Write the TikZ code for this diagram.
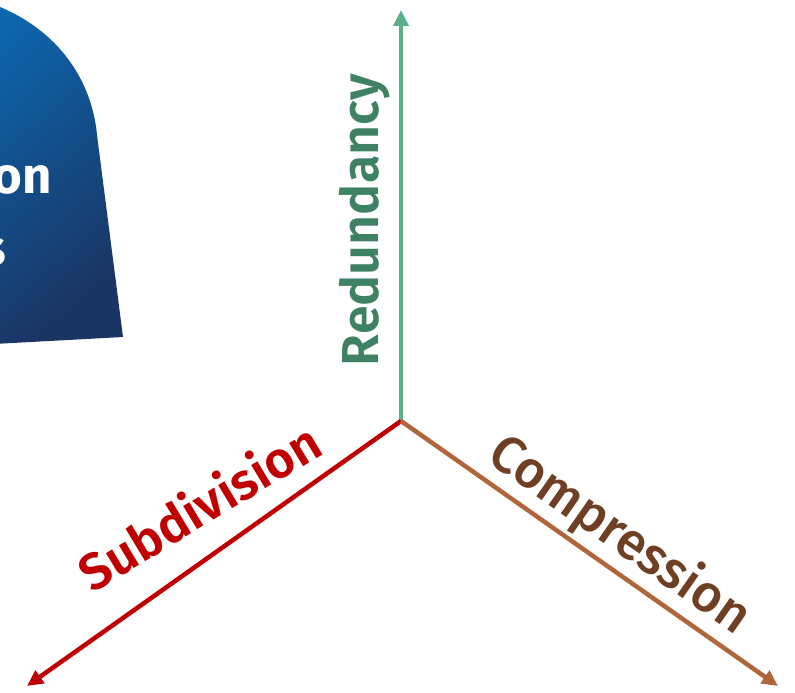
\documentclass[tikz,border=0pt]{standalone}
\usepackage{fontspec}
\setmainfont{Fira Sans}
\newfontfamily\firamedium{Fira Sans Medium}
\newfontfamily\firasemi{Fira Sans SemiBold}
\usetikzlibrary{arrows.meta}
\definecolor{redundgreen}{HTML}{5BB08A}
\definecolor{redundtext}{HTML}{3F8263}
\definecolor{subdivred}{HTML}{C00000}
\definecolor{compbrown}{HTML}{B0663A}
\definecolor{comptext}{HTML}{6E3F22}
\definecolor{panelblue}{HTML}{0B6AB3}
\definecolor{paneldark}{HTML}{1A3463}
\tikzset{
  axisarrow/.style={line width=4.5pt, -{Triangle[length=16pt,width=15pt]}},
  axislabel/.style={anchor=base, font=\firasemi\fontsize{52}{60}\selectfont},
  paneltext/.style={anchor=base east, inner sep=0pt, text=white, font=\bfseries\fontsize{51}{55}\selectfont}
}

\begin{document}
\begin{tikzpicture}[x=1pt,y=-1pt]
   \useasboundingbox (0,0) rectangle (795,693);
   % blue panel, cut by the left edge
   \begin{scope}
      \clip (0,0) rectangle (795,693);
      \shade[top color=panelblue, bottom color=paneldark, shading angle=40]
         (-80,-10) .. controls (30,-5) and (90,60) .. (97,135) -- (123,337) -- (-80,348) -- cycle;
      \node[paneltext] (paneltop) at (52,193) {tion};
      \node[paneltext] (panelbot) at (6,265) {s};
   \end{scope}
   % the three axes
   \coordinate (origin) at (401,421);
   \coordinate (redundtip) at (401,10);
   \coordinate (subdivtip) at (27,686);
   \coordinate (comptip) at (778,686);
   \draw[axisarrow, redundgreen] (origin) -- (redundtip);
   \draw[axisarrow, subdivred] (origin) -- (subdivtip);
   \draw[axisarrow, compbrown] (origin) -- (comptip);
   \node[axislabel, rotate=90, text=redundtext] (redund) at (378,220) {Redundancy};
   \node[axislabel, rotate=31, text=subdivred, font=\firasemi\fontsize{51}{60}\selectfont] (subdiv) at (209,523) {Subdivision};
   \node[axislabel, rotate=-35, text=comptext, font=\firamedium\fontsize{52}{60}\selectfont] (compress) at (611,548) {Compression};
\end{tikzpicture}
\end{document}
